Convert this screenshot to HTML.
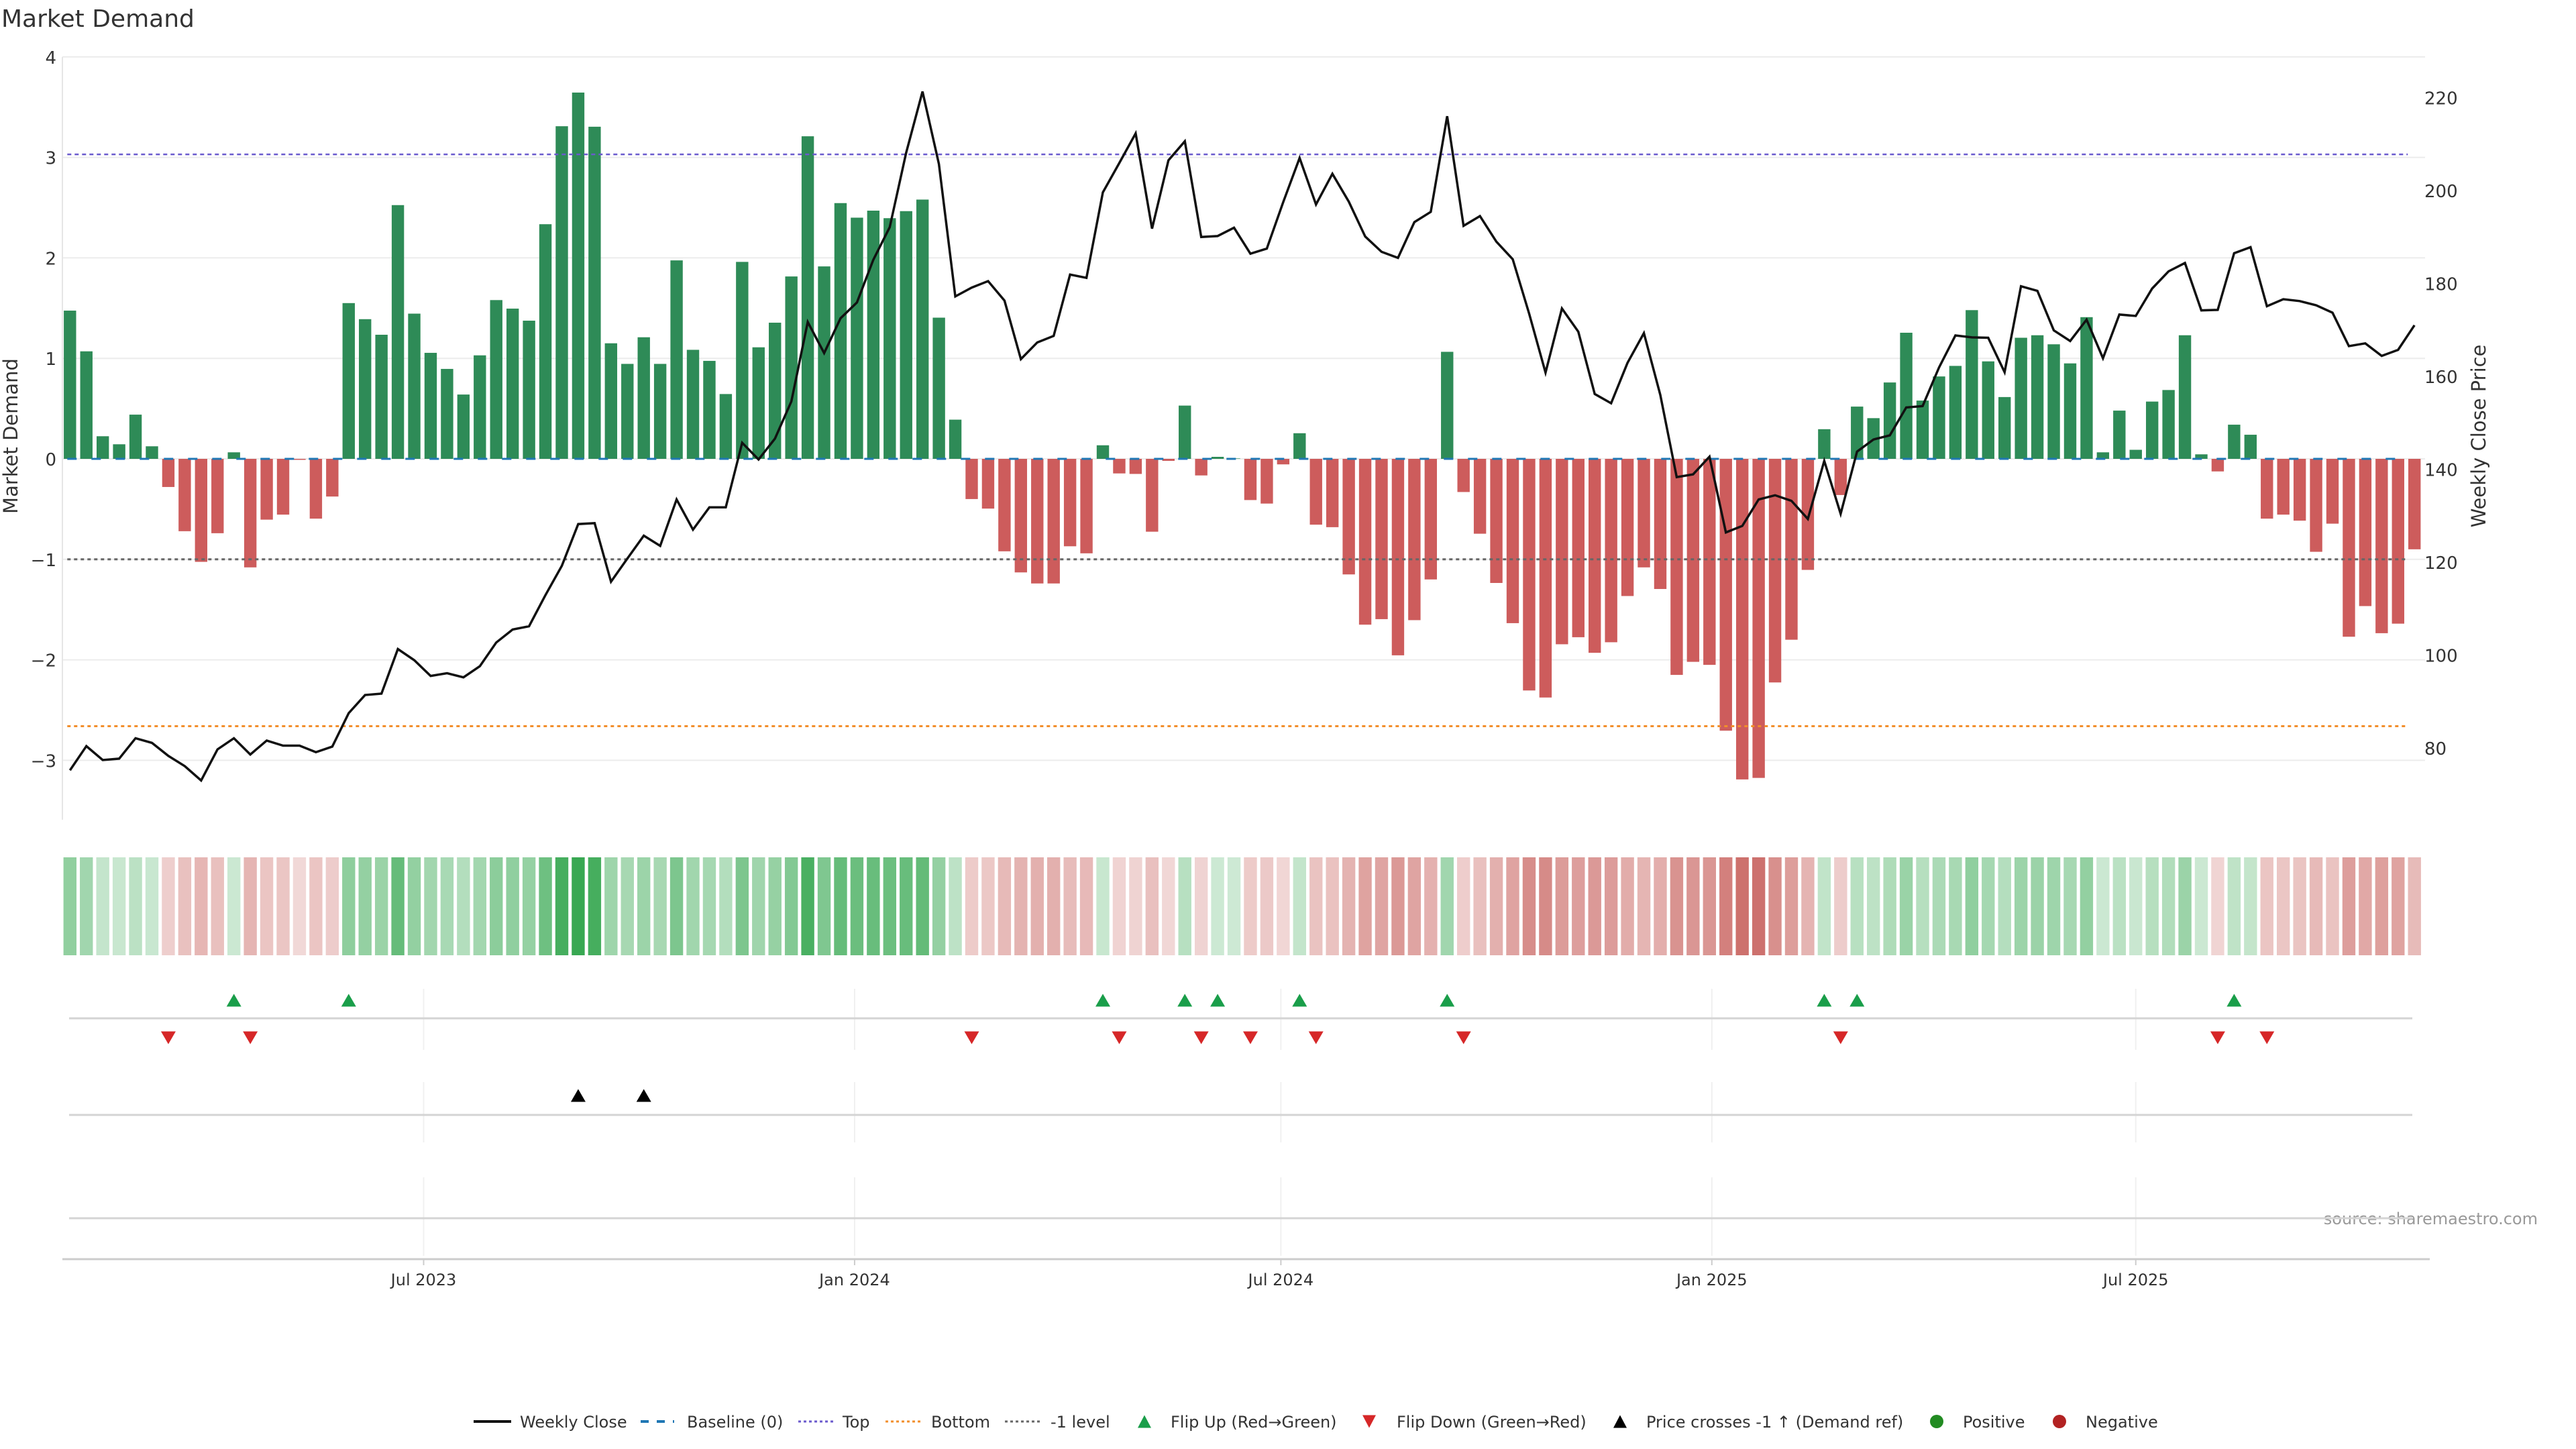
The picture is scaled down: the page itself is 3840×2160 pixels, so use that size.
<!DOCTYPE html>
<html><head><meta charset="utf-8"><style>
html,body{margin:0;padding:0;background:#fff;}
svg{display:block;font-family:"DejaVu Sans","Liberation Sans",sans-serif;}
</style></head><body>
<svg id="chart" width="3840" height="2160" viewBox="0 0 3840 2160" xmlns="http://www.w3.org/2000/svg">
<rect x="0" y="0" width="3840" height="2160" fill="#fff"/>
<text x="2" y="40" font-size="36" fill="#333">Market Demand</text>
<text transform="translate(26,650) rotate(-90)" text-anchor="middle" font-size="29" fill="#333">Market Demand</text>
<text transform="translate(3705,650) rotate(-90)" text-anchor="middle" font-size="29" fill="#333">Weekly Close Price</text>
<text x="3783" y="1825" text-anchor="end" font-size="24" fill="#999">source: sharemaestro.com</text>
<g id="g-grid"></g>
<g id="g-bars"></g>
<g id="g-levels"></g>
<g id="g-price"></g>
<g id="g-axes"></g>
<g id="g-heat"></g>
<g id="g-lanes"></g>
<g id="g-legend"></g>
</svg>
<script>
const demand = [1.475,1.07,0.225,0.145,0.44,0.125,-0.28,-0.72,-1.025,-0.74,0.065,-1.08,-0.605,-0.555,-0.01,-0.595,-0.375,1.55,1.39,1.235,2.525,1.445,1.055,0.895,0.64,1.03,1.58,1.495,1.375,2.335,3.31,3.645,3.305,1.15,0.945,1.21,0.945,
1.975,1.085,0.975,0.645,1.96,1.11,1.355,1.815,3.21,1.915,2.545,2.40,2.47,2.395,2.465,2.58,1.405,0.39,-0.40,-0.495,-0.92,-1.13,-1.24,-1.24,-0.87,-0.94,0.135,-0.145,-0.15,-0.725,-0.02,0.53,-0.165,0.02,0.004,-0.41,
-0.445,-0.055,0.255,-0.655,-0.68,-1.15,-1.65,-1.595,-1.955,-1.605,-1.20,1.065,-0.33,-0.745,-1.235,-1.635,-2.305,-2.375,-1.845,-1.775,-1.93,-1.825,-1.365,-1.08,-1.295,-2.15,-2.02,-2.05,-2.705,-3.19,-3.175,-2.225,-1.80,-1.105,0.295,-0.36,
0.52,0.405,0.76,1.255,0.58,0.82,0.925,1.48,0.97,0.615,1.205,1.23,1.14,0.95,1.41,0.065,0.48,0.09,0.57,0.685,1.23,0.045,-0.125,0.34,0.24,-0.595,-0.555,-0.615,-0.925,-0.645,-1.77,-1.465,-1.735,-1.64,-0.90];
const price = [75.2,80.4,77.4,77.7,82.1,81.1,78.3,76.1,73.0,79.7,82.1,78.6,81.6,80.5,80.5,79.1,80.3,87.5,91.4,91.7,101.3,98.9,95.5,96.1,95.2,97.6,102.7,105.5,106.2,112.9,119.2,128.2,128.4,115.8,120.8,125.7,123.5,
133.5,127.0,131.8,131.8,145.7,142.1,146.6,154.6,171.7,165.0,172.5,175.9,185.1,192.1,208.1,221.3,205.7,177.2,179.1,180.5,176.3,163.7,167.3,168.7,181.9,181.2,199.6,205.9,212.3,191.8,206.5,210.6,190.0,190.2,192.0,186.4,
187.5,197.5,207.0,197.0,203.6,197.6,190.1,186.8,185.5,193.2,195.4,216.0,192.4,194.5,189.0,185.2,173.5,160.8,174.6,169.6,156.2,154.2,162.9,169.3,156.0,138.3,138.9,142.7,126.4,127.8,133.5,134.4,133.2,129.3,141.8,130.4,
143.8,146.4,147.3,153.3,153.6,161.9,168.8,168.4,168.3,160.9,179.4,178.4,169.9,167.6,172.2,163.9,173.3,173.0,178.9,182.6,184.4,174.2,174.3,186.5,187.8,175.1,176.6,176.2,175.3,173.7,166.5,167.1,164.4,165.7,171.0];
const priceCrossIdx = [31,35];
const leftTicks = [-3,-2,-1,0,1,2,3,4];
const rightTicks = [80,100,120,140,160,180,200,220];
const dateTicks = ["2023-07-01","2024-01-01","2024-07-01","2025-01-01","2025-07-01"];
const dateTickLabels = ["Jul 2023","Jan 2024","Jul 2024","Jan 2025","Jul 2025"];
const topLevel = 3.03, bottomLevel = -2.66, minusOneLevel = -1, baselineLevel = 0;

const NS = "http://www.w3.org/2000/svg";
const X0 = 104.3, STEP = 24.44, START = new Date("2023-01-31T00:00:00Z");
const PL = 93, PR = 3615;
function xIdx(i){ return X0 + i*STEP; }
function xDate(s){ const d=(new Date(s+"T00:00:00Z")-START)/86400000; return X0 + d/7*STEP; }
function yL(v){ return 684 - 149.8*v; }
function yR(p){ return 1115 - (p-80)*6.925; }
function mk(tag, attrs, parent){ const e=document.createElementNS(NS,tag); for(const k in attrs) e.setAttribute(k,attrs[k]); parent.appendChild(e); return e; }
const gGrid=document.getElementById('g-grid'), gBars=document.getElementById('g-bars'), gLev=document.getElementById('g-levels'),
gPrice=document.getElementById('g-price'), gAx=document.getElementById('g-axes'), gHeat=document.getElementById('g-heat'),
gLanes=document.getElementById('g-lanes'), gLeg=document.getElementById('g-legend');

leftTicks.forEach(v=>{
  const l=mk('line',{x1:PL,x2:PR,y1:yL(v),y2:yL(v),stroke:'#ececec','stroke-width':2},gGrid);
  
  
  const t=mk('text',{x:84,y:yL(v)+10,'text-anchor':'end','font-size':26,fill:'#333'},gAx);
  t.textContent = v<0 ? '\u2212'+Math.abs(v) : String(v);
  
  
});
rightTicks.forEach(p=>{
  const t=mk('text',{x:3614,y:yR(p)+10,'font-size':26,fill:'#333'},gAx);
  t.textContent=String(p);
  
  
});
const spine=mk('line',{x1:PL,x2:PL,y1:85,y2:1222,stroke:'#e6e6e6','stroke-width':2},gAx);



const BW=18.4;
demand.forEach((v,i)=>{
  const y0=yL(0), y1=yL(v);
  const r=mk('rect',{x:xIdx(i)-BW/2,y:Math.min(y0,y1),width:BW,height:Math.max(0.5,Math.abs(y1-y0)),fill:v>0?'#2e8b57':'#cd5c5c'},gBars);
  
  
});

function hline(v,color,dash,w,name){
  const l=mk('line',{x1:xIdx(0)-4,x2:xIdx(demand.length-1)-10,y1:yL(v),y2:yL(v),stroke:color,'stroke-width':w,'stroke-dasharray':dash},gLev);
  
  
}
hline(baselineLevel,'#1f77b4','14 22',3,'baseline-zero-line');
hline(topLevel,'#6a5acd','6 5',2.5,'top-level-line');
hline(bottomLevel,'#f28e2b','5 5',3,'bottom-level-line');
hline(minusOneLevel,'#666','5 5',3,'minus-one-level-line');

const pl=mk('polyline',{points:price.map((p,i)=>xIdx(i)+','+yR(p)).join(' '),fill:'none',stroke:'#111','stroke-width':3.5,'stroke-linejoin':'miter'},gPrice);



const vmax=Math.max(...demand.map(Math.abs));
demand.forEach((v,i)=>{
  const a=0.25+0.75*Math.abs(v)/vmax;
  const c=mk('rect',{x:xIdx(i)-9.7,y:1278,width:19.4,height:146,fill:v>0?'#38a852':'#c8625e','fill-opacity':a.toFixed(3)},gHeat);
  
  
});

[[1474,1565,1518],[1613,1703,1662],[1755,1872,1816]].forEach((ln,k)=>{
  dateTicks.forEach(d=>{
    const g=mk('line',{x1:xDate(d),x2:xDate(d),y1:ln[0],y2:ln[1],stroke:'#f0f0f0','stroke-width':2},gLanes);
    
    
  });
  const l=mk('line',{x1:103,x2:3596,y1:ln[2],y2:ln[2],stroke:'#d4d4d4','stroke-width':3},gLanes);
  
  
});
function tri(x,y,up,color,name){
  const h=19,w=11;
  const pts = up ? [[x,y-h/2],[x+w,y+h/2],[x-w,y+h/2]] : [[x-w,y-h/2],[x+w,y-h/2],[x,y+h/2]];
  const t=mk('polygon',{points:pts.map(p=>p.join(',')).join(' '),fill:color},gLanes);
  
  
}
for(let i=1;i<demand.length;i++){
  if(demand[i]>0 && demand[i-1]<=0) tri(xIdx(i),1491,true,'#1a9e4a','flip-up-marker');
  if(demand[i]<=0 && demand[i-1]>0) tri(xIdx(i),1547,false,'#d62728','flip-down-marker');
}
priceCrossIdx.forEach(i=>tri(xIdx(i),1633,true,'#000','price-cross-marker'));

const xa=mk('line',{x1:PL,x2:3622,y1:1877,y2:1877,stroke:'#ccc','stroke-width':3},gAx);


dateTicks.forEach((d,k)=>{
  const tk=mk('line',{x1:xDate(d),x2:xDate(d),y1:1877,y2:1886,stroke:'#ccc','stroke-width':2},gAx);
  
  
  const t=mk('text',{x:xDate(d),y:1916,'text-anchor':'middle','font-size':24,fill:'#333'},gAx);
  t.textContent=dateTickLabels[k];
  
  
});

const LY=2119;
function legText(x,s){
  const t=mk('text',{x:x,y:LY+9,'font-size':24,fill:'#333'},gLeg);
  t.textContent=s;
  
  
}
function legLine(x1,x2,color,dash,w){
  const l=mk('line',{x1:x1,x2:x2,y1:LY,y2:LY,stroke:color,'stroke-width':w,'stroke-dasharray':dash},gLeg);
  
  
}
legLine(706,762,'#111','none',4); legText(775,'Weekly Close');
legLine(955,1005,'#1f77b4','12 12',4); legText(1024,'Baseline (0)');
legLine(1190,1242,'#6a5acd','4 4',3); legText(1256,'Top');
legLine(1320,1374,'#f28e2b','4 4',3); legText(1388,'Bottom');
legLine(1498,1552,'#666','4 4',3); legText(1566,'-1 level');
function legTri(x,up,color){
  const h=19,w=10,y=LY;
  const pts = up ? [[x,y-h/2],[x+w,y+h/2],[x-w,y+h/2]] : [[x-w,y-h/2],[x+w,y-h/2],[x,y+h/2]];
  const t=mk('polygon',{points:pts.map(p=>p.join(',')).join(' '),fill:color},gLeg);
  
  
}
legTri(1706,true,'#1a9e4a'); legText(1745,'Flip Up (Red\u2192Green)');
legTri(2041,false,'#d62728'); legText(2082,'Flip Down (Green\u2192Red)');
legTri(2415,true,'#000'); legText(2454,'Price crosses -1 \u2191 (Demand ref)');
function legDot(x,color){
  const c=mk('circle',{cx:x,cy:LY,r:10,fill:color},gLeg);
  
  
}
legDot(2887,'#228b22'); legText(2926,'Positive');
legDot(3070,'#b22222'); legText(3109,'Negative');
</script>
</body></html>
